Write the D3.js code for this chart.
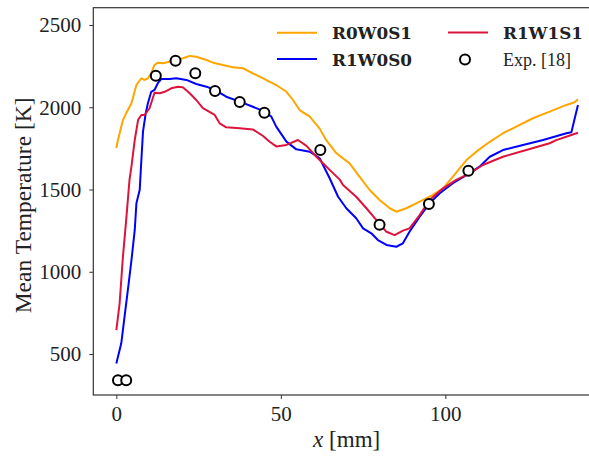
<!DOCTYPE html>
<html><head><meta charset="utf-8">
<script src="https://cdn.jsdelivr.net/npm/d3@7"></script>
<style>body{margin:0;background:#fff}svg{display:block}</style>
</head><body>
<script>
// ---- data ----
const xTicks = [0, 50, 100];
const yTicks = [500, 1000, 1500, 2000, 2500];
const seriesNames = ["R0W0S1", "R1W0S0", "R1W1S1"];
const r0w0s1 = [[0,1752],[0.5,1801],[2,1922],[3,1963],[4.6,2024],[6.1,2135],[7.6,2176],[8.6,2166],[9.6,2176],[10.6,2206],[11.6,2257],[12.6,2271],[14.2,2267],[16.2,2277],[18.2,2287],[20.2,2298],[22.3,2312],[24.3,2307],[27.4,2287],[29.4,2271],[32.4,2257],[35.4,2243],[38.5,2237],[41.5,2206],[44.6,2176],[48.6,2135],[51.7,2094],[53.7,2044],[55.7,1983],[58.8,1943],[61.8,1870],[63.8,1800],[66.9,1720],[70.9,1659],[73.9,1578],[77,1497],[80,1436],[83.1,1386],[85.1,1365],[88.1,1386],[92.2,1426],[96.2,1467],[99.3,1507],[102.3,1578],[106.4,1679],[109.4,1730],[113.5,1790],[117.5,1842],[120.5,1872],[126.6,1933],[131.7,1973],[136.8,2014],[139.3,2030],[140.3,2048]];
const r1w0s0 = [[0,443],[1.5,565],[2.5,727],[3.5,889],[4.6,1071],[5.6,1254],[6.1,1416],[7.1,1497],[7.5,1640],[8.1,1850],[8.9,1960],[9.6,2024],[10.6,2094],[11.6,2105],[12.6,2146],[13.7,2172],[16.2,2172],[18.2,2176],[21.3,2166],[24.3,2141],[27.4,2125],[29.9,2105],[33.4,2064],[37.5,2034],[41.5,2003],[45.1,1973],[47.1,1943],[48.6,1882],[51.7,1791],[54.7,1744],[58.8,1730],[61.8,1690],[64.8,1570],[67.4,1456],[69.9,1386],[72.9,1325],[75,1264],[77.5,1234],[79.5,1193],[82.1,1163],[85.1,1152],[87.1,1173],[89.1,1243],[92.2,1335],[95.2,1416],[98.3,1477],[102.3,1538],[106.4,1588],[110.4,1639],[113.5,1699],[117.5,1740],[123.6,1771],[129.7,1801],[136.8,1842],[138.3,1848],[140.3,2014]];
const r1w1s1 = [[0,646],[1,808],[2,1091],[3,1315],[4,1558],[4.6,1640],[5.6,1801],[6.6,1922],[7.6,1953],[8.6,1953],[10.1,1994],[11.6,2088],[13.2,2085],[14.7,2094],[16.7,2115],[18.7,2125],[20.2,2121],[22.3,2085],[24.3,2044],[26.3,1994],[29.9,1953],[31.4,1902],[33.4,1878],[37.5,1872],[41.5,1865],[44.6,1825],[46.6,1790],[48.6,1762],[51.7,1771],[55.2,1801],[57.8,1765],[60.8,1699],[62.8,1660],[65.3,1610],[67.9,1560],[68.9,1527],[72.9,1456],[76,1386],[79,1315],[82.1,1243],[84.6,1223],[87.1,1250],[89.1,1264],[92.2,1345],[95.2,1436],[99.3,1507],[103.3,1558],[107.4,1598],[111.4,1649],[117.5,1699],[124.6,1740],[131.7,1781],[133.7,1800],[138.3,1831],[140.3,1845]];
const expX = [0.5, 3, 12, 18, 24, 30, 37.5, 45, 62, 80, 95, 107];
const expT = [340, 340, 2192, 2283, 2206, 2099, 2032, 1967, 1740, 1286, 1412, 1614];
const colors = ["#FFA500", "#0000FF", "#DC143C"];

// ---- layout ----
const W = 589, H = 456;
const L = 93.3, R = 600, T = 7.7, B = 395;
const svg = d3.select("body").append("svg").attr("width", W).attr("height", H);
const x = d3.scaleLinear().domain([-7, 147]).range([L, R]);
const y = d3.scaleLinear().domain([251, 2605]).range([B, T]);
const serif = "'Liberation Serif', 'Times New Roman', serif";

svg.append("clipPath").attr("id", "c").append("rect")
  .attr("x", L).attr("y", T).attr("width", R - L).attr("height", B - T);

const line = d3.line().x(d => x(d[0])).y(d => y(d[1]));
const plot = svg.append("g").attr("clip-path", "url(#c)");
[r0w0s1, r1w0s0, r1w1s1].forEach((s, i) => {
  plot.append("path").datum(s).attr("d", line).attr("fill", "none")
    .attr("stroke", colors[i]).attr("stroke-width", 2).attr("stroke-linejoin", "round");
});
plot.selectAll("circle.exp").data(expX.map((v, i) => [v, expT[i]])).enter()
  .append("circle").attr("class", "exp")
  .attr("cx", d => x(d[0])).attr("cy", d => y(d[1])).attr("r", 5)
  .attr("fill", "#fff").attr("stroke", "#000").attr("stroke-width", 2);

// axes
const xAxis = svg.append("g").attr("transform", `translate(0,${B})`)
  .call(d3.axisBottom(x).tickValues(xTicks).tickSize(4).tickPadding(8).tickFormat(d3.format("d")));
const yAxis = svg.append("g").attr("transform", `translate(${L},0)`)
  .call(d3.axisLeft(y).tickValues(yTicks).tickSize(4).tickPadding(8).tickFormat(d3.format("d")));
[xAxis, yAxis].forEach(a => {
  a.select(".domain").remove();
  a.selectAll("line").attr("stroke", "#333").attr("stroke-width", 1);
  a.selectAll("text").attr("font-family", serif).attr("font-size", 21).attr("fill", "#222");
});
xAxis.selectAll("text").attr("dy", null).attr("y", 26);
yAxis.selectAll("text").attr("dy", "0.33em");

// frame
svg.append("rect").attr("x", L).attr("y", T).attr("width", R - L).attr("height", B - T)
  .attr("fill", "none").attr("stroke", "#333").attr("stroke-width", 1.2);

// labels
svg.append("text").attr("x", (L + R) / 2).attr("y", 447).attr("text-anchor", "middle")
  .attr("font-family", serif).attr("font-size", 23).attr("fill", "#222")
  .html('<tspan font-style="italic">x</tspan> [mm]');
svg.append("text").attr("transform", `translate(30.5,${(T + B) / 2 + 4}) rotate(-90)`)
  .attr("text-anchor", "middle").attr("font-family", serif).attr("font-size", 23.5).attr("fill", "#222")
  .text("Mean Temperature [K]");

// legend
const leg = svg.append("g");
const items = [
  {name: seriesNames[0], c: colors[0], lx: 277, ly: 32.7, tx: 332, ty: 39},
  {name: seriesNames[1], c: colors[1], lx: 277, ly: 59, tx: 332, ty: 66},
  {name: seriesNames[2], c: colors[2], lx: 448, ly: 32.5, tx: 503, ty: 39}
];
items.forEach(it => {
  leg.append("line").attr("x1", it.lx).attr("x2", it.lx + 40).attr("y1", it.ly).attr("y2", it.ly)
    .attr("stroke", it.c).attr("stroke-width", 2);
  leg.append("text").attr("x", it.tx).attr("y", it.ty)
    .attr("font-family", "'DejaVu Serif', serif").attr("font-weight", "bold").attr("font-size", 16.8)
    .attr("fill", "#222").text(it.name);
});
leg.append("circle").attr("cx", 465).attr("cy", 59.5).attr("r", 5)
  .attr("fill", "#fff").attr("stroke", "#000").attr("stroke-width", 2);
leg.append("text").attr("x", 503).attr("y", 66).attr("font-family", serif)
  .attr("font-size", 18).attr("fill", "#222").text("Exp. [18]");
</script>
</body></html>
